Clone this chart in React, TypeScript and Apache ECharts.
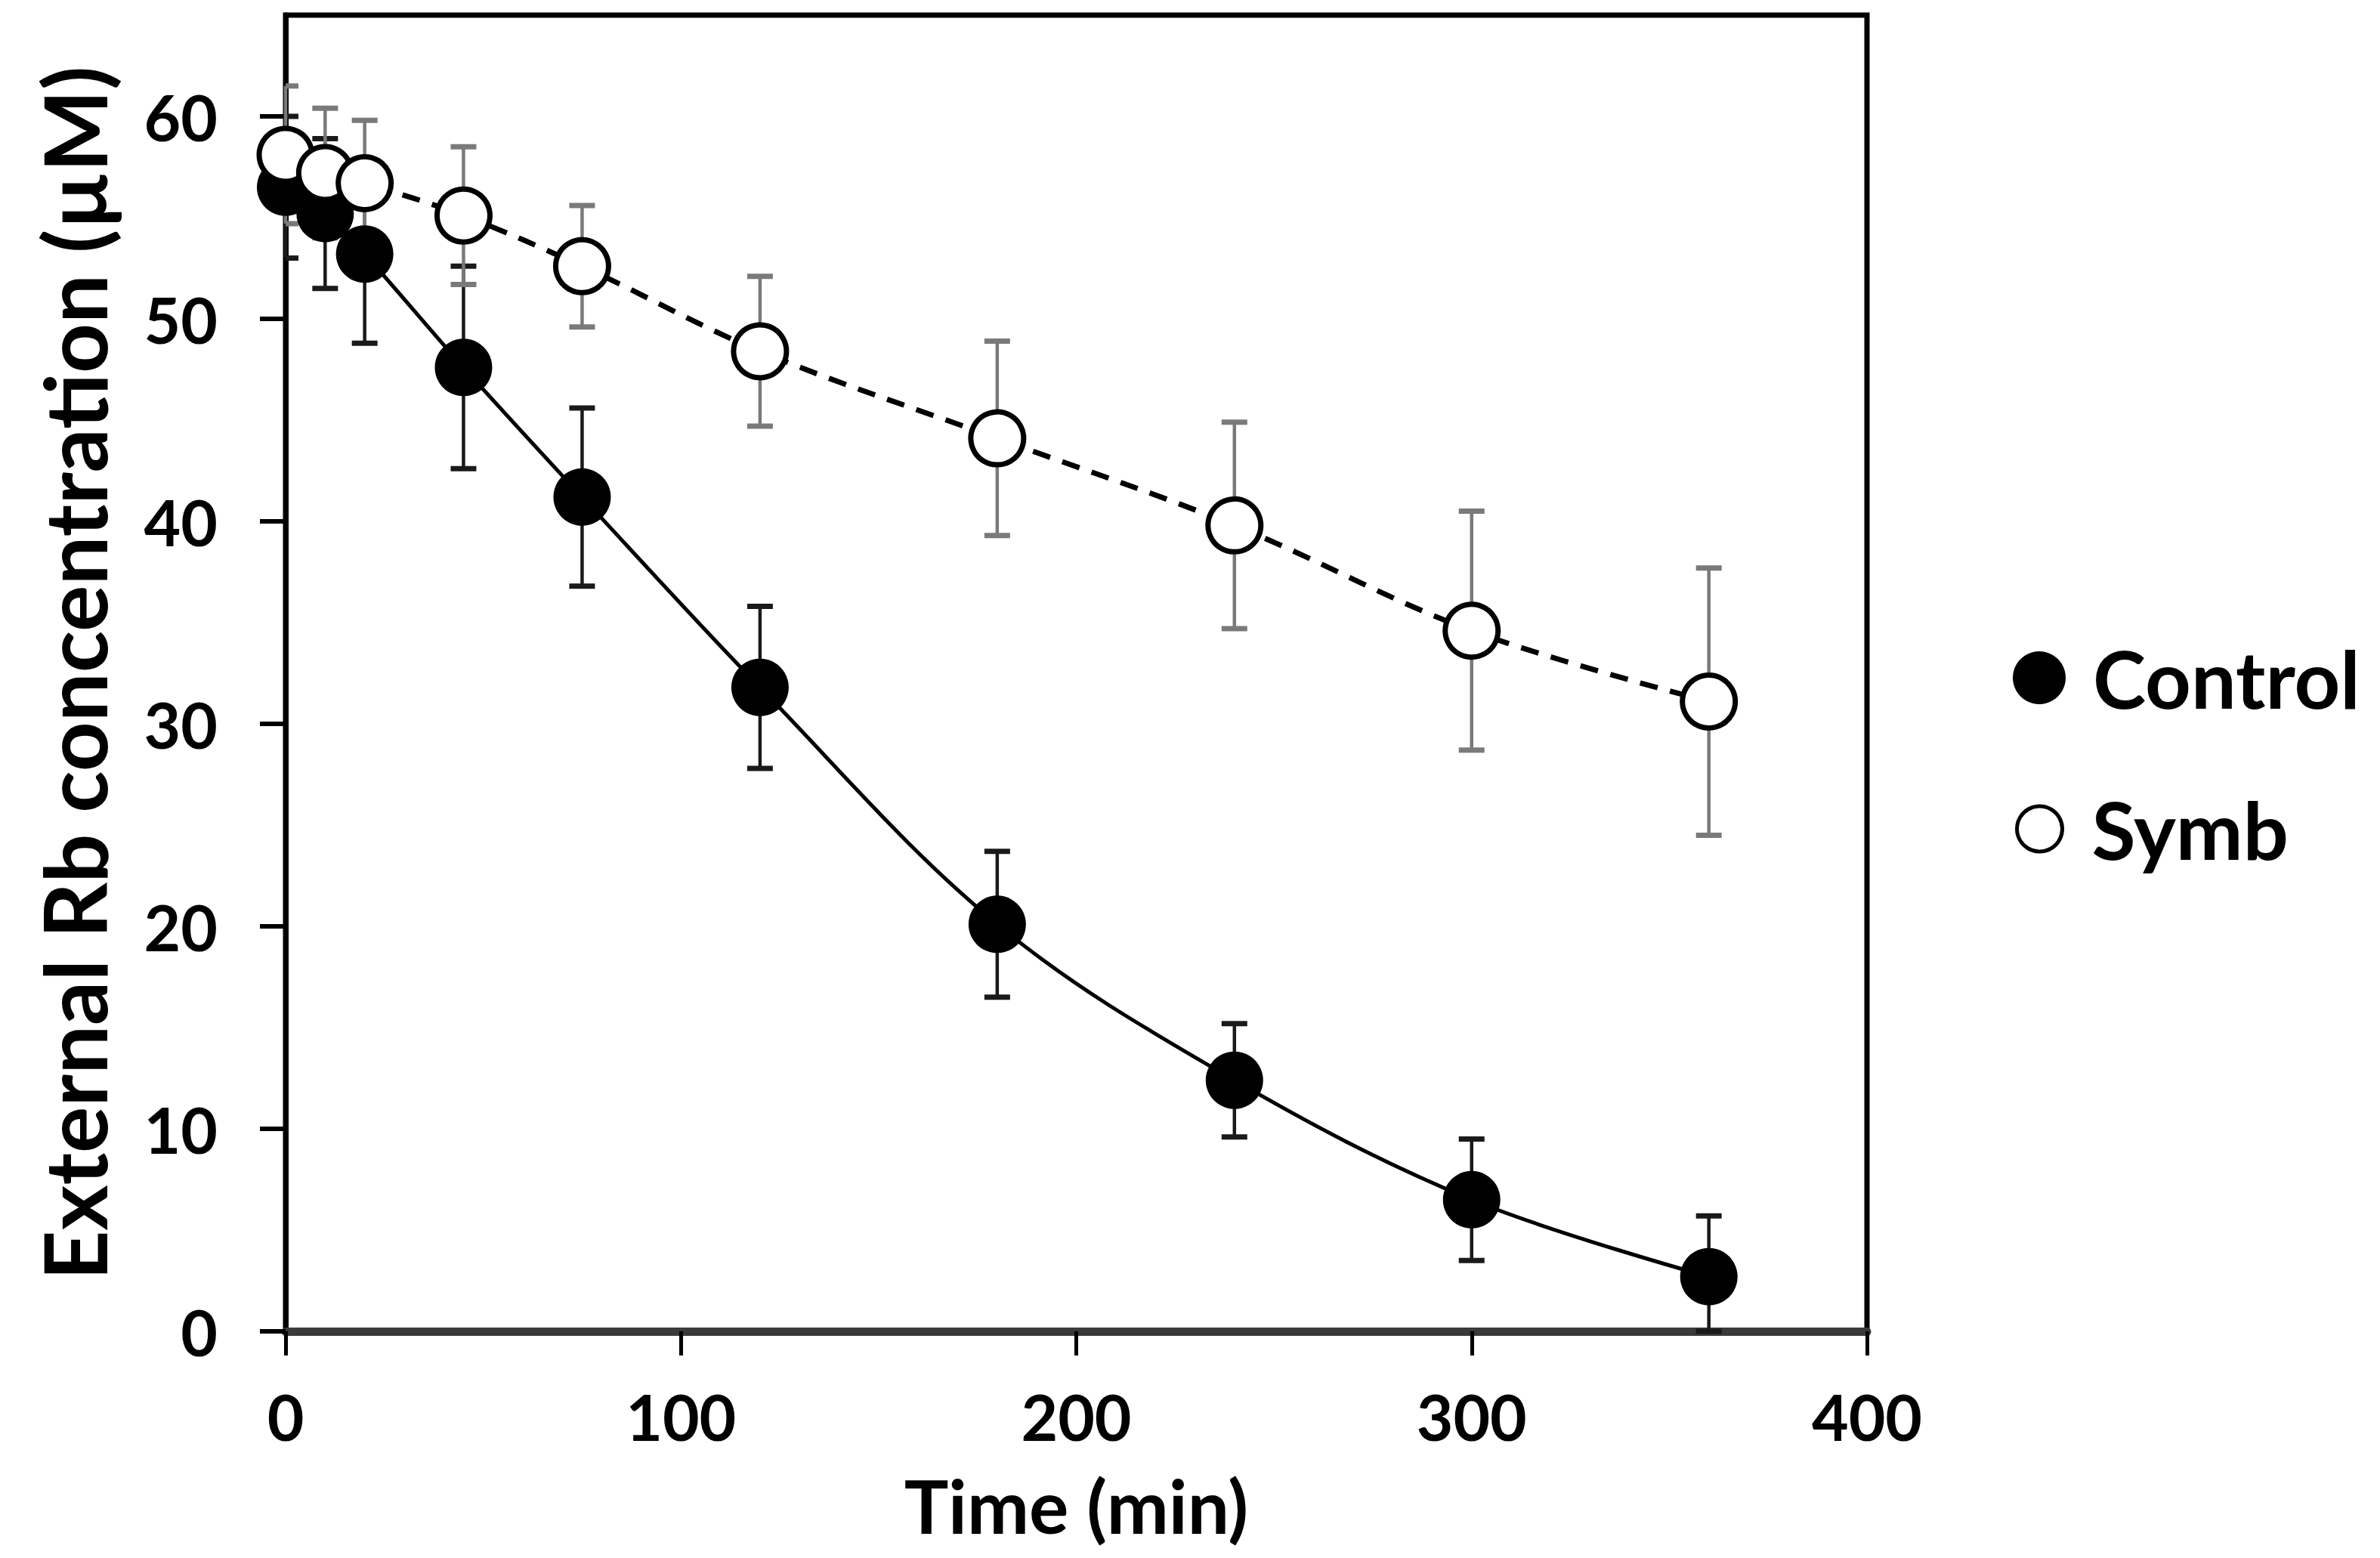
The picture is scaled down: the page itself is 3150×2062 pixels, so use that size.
import React, { useEffect, useRef } from "react";
import * as echarts from "echarts";

const times = [0, 10, 20, 45, 75, 120, 180, 240, 300, 360];
const control = [56.5, 55.2, 53.2, 47.6, 41.2, 31.8, 20.1, 12.4, 6.5, 2.7];
const controlErr = [3.5, 3.7, 4.4, 5.0, 4.4, 4.0, 3.6, 2.8, 3.0, 3.0];
const symb = [58.1, 57.2, 56.7, 55.1, 52.6, 48.4, 44.1, 39.8, 34.6, 31.1];
const symbErr = [3.4, 3.2, 3.1, 3.4, 3.0, 3.7, 4.8, 5.1, 5.9, 6.6];
const xTicks = [0, 100, 200, 300, 400];
const yTicks = [0, 10, 20, 30, 40, 50, 60];

const FONT = "Lato";

function errRender(color: string, stemW: number, capW: number, capHalf: number) {
  return (params: any, api: any) => {
    const x = api.value(0);
    const lo = api.value(1);
    const hi = api.value(2);
    const pLo = api.coord([x, lo]);
    const pHi = api.coord([x, hi]);
    const cs = params.coordSys;
    const clampY = (y: number) => Math.min(Math.max(y, cs.y), cs.y + cs.height);
    const cx = pLo[0];
    const xa = Math.max(cx - capHalf, cs.x);
    const xb = cx + capHalf;
    const yLo = clampY(pLo[1]);
    const yHi = clampY(pHi[1]);
    return {
      type: "group",
      children: [
        { type: "line", shape: { x1: cx, y1: yLo, x2: cx, y2: yHi }, style: { stroke: color, lineWidth: stemW } },
        { type: "line", shape: { x1: xa, y1: yHi, x2: xb, y2: yHi }, style: { stroke: color, lineWidth: capW } },
        { type: "line", shape: { x1: xa, y1: yLo, x2: xb, y2: yLo }, style: { stroke: color, lineWidth: capW } },
      ],
    };
  };
}

export default function App() {
  const ref = useRef<HTMLDivElement>(null);
  useEffect(() => {
    document.body.style.margin = "0";
    const chart = echarts.init(ref.current!, null, { renderer: "svg" });
    const controlData = times.map((t, i) => [t, control[i]]);
    const symbData = times.map((t, i) => [t, symb[i]]);
    const controlErrData = times.map((t, i) => [t, control[i] - controlErr[i], control[i] + controlErr[i]]);
    const symbErrData = times.map((t, i) => [t, symb[i] - symbErr[i], symb[i] + symbErr[i]]);
    const labelStyle = { fontFamily: FONT, fontWeight: "bold" as const, color: "#000" };
    chart.setOption({
      animation: false,
      backgroundColor: "#fff",
      grid: {
        left: 378,
        right: 679,
        top: 20,
        bottom: 300,
        show: true,
        borderColor: "#000",
        borderWidth: 7,
      },
      legend: [
        {
          data: [{ name: "Control", icon: "circle", itemStyle: { color: "#000" } }],
          left: 2664,
          top: 897 - 53,
          orient: "vertical",
          padding: 0,
          itemWidth: 70,
          itemHeight: 70,
          selectedMode: false,
          textStyle: { ...labelStyle, fontSize: 106, padding: [0, 0, 0, 31] },
        },
        {
          data: [
            {
              name: "Symb",
              icon: "circle",
              itemStyle: { color: "#fff", borderColor: "#000", borderWidth: 5 },
            },
          ],
          left: 2667,
          top: 1097 - 53,
          orient: "vertical",
          padding: 0,
          itemWidth: 60,
          itemHeight: 60,
          selectedMode: false,
          textStyle: { ...labelStyle, fontSize: 106, padding: [0, 0, 0, 34] },
        },
      ],
      xAxis: {
        type: "value",
        min: 0,
        max: 400,
        interval: 100,
        name: "Time (min)",
        nameLocation: "middle",
        nameGap: 181,
        nameTextStyle: { ...labelStyle, fontSize: 98 },
        axisLine: { show: true, lineStyle: { color: "#3a3a3a", width: 11 } },
        axisTick: { show: true, inside: false, length: 32, lineStyle: { color: "#000", width: 5 }, customValues: xTicks },
        axisLabel: { ...labelStyle, fontSize: 84, margin: 70, customValues: xTicks },
        splitLine: { show: false },
      },
      yAxis: {
        type: "value",
        min: 0,
        max: 65,
        interval: 10,
        name: "External Rb concentration (µM)",
        nameLocation: "middle",
        nameGap: 224,
        nameTextStyle: { ...labelStyle, fontSize: 115 },
        axisLine: { show: true, lineStyle: { color: "#000", width: 7 } },
        axisTick: { show: true, inside: false, length: 34, lineStyle: { color: "#000", width: 6 }, customValues: yTicks },
        axisLabel: { ...labelStyle, fontSize: 84, margin: 90, customValues: yTicks },
        splitLine: { show: false },
      },
      series: [
        {
          name: "ControlErr",
          type: "custom",
          renderItem: errRender("#1a1a1a", 4.5, 7, 17),
          encode: { x: 0, y: [1, 2] },
          data: controlErrData,
          z: 1,
          silent: true,
        },
        {
          name: "SymbErr",
          type: "custom",
          renderItem: errRender("#7a7a7a", 4.5, 7, 17),
          encode: { x: 0, y: [1, 2] },
          data: symbErrData,
          z: 1,
          silent: true,
        },
        {
          name: "Control",
          type: "line",
          data: controlData,
          smooth: 0.35,
          clip: false,
          symbol: "circle",
          symbolSize: 76,
          itemStyle: { color: "#000" },
          lineStyle: { color: "#000", width: 5 },
          z: 3,
        },
        {
          name: "Symb",
          type: "line",
          data: symbData,
          smooth: 0.35,
          clip: false,
          symbol: "circle",
          symbolSize: 70,
          itemStyle: { color: "#fff", borderColor: "#000", borderWidth: 7 },
          lineStyle: { color: "#000", width: 7, type: [24, 17] },
          z: 4,
        },
      ],
    });
    return () => chart.dispose();
  }, []);
  return (
    <div
      ref={ref}
      style={{ position: "absolute", left: 0, top: 0, width: 3150, height: 2062, background: "#fff" }}
    />
  );
}
